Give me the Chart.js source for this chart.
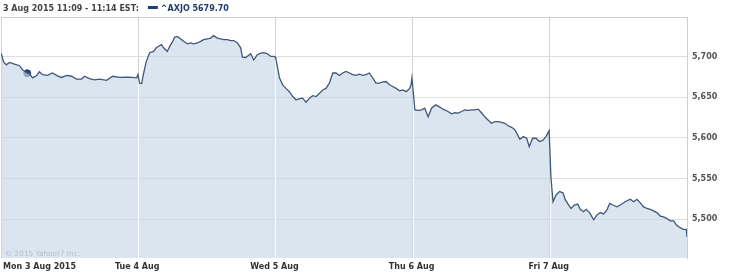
<!DOCTYPE html>
<html>
<head>
<meta charset="utf-8">
<script src="https://cdn.jsdelivr.net/npm/chart.js@4/dist/chart.umd.min.js"></script>
<style>
   html, body { margin: 0; padding: 0; background: #fff; }
   .chart__body { width: 740px; height: 277px; }
</style>
</head>
<body>
<div class="chart__body"><canvas id="myChart" width="740" height="277"></canvas></div>
<script>
// trading hours since Mon open (6 trading hours per day)
const sessionHours = [
   0.01,0.11,0.23,0.37,0.59,0.81,0.94,1.15,1.25,1.38,1.55,1.68,1.82,2.04,2.25,2.47,2.65,2.87,3.09,3.30,3.52,3.65,3.87,4.09,4.31,4.62,4.88,5.19,5.49,5.75,5.93,5.99,
   6.06,6.15,6.24,6.35,6.50,6.67,6.79,6.89,7.02,7.11,7.27,7.42,7.51,7.59,7.71,7.86,7.99,8.15,8.29,8.42,8.59,8.73,8.86,9.02,9.17,9.30,9.46,9.61,9.74,9.90,10.04,10.18,10.34,10.48,10.56,10.70,10.92,11.05,11.21,11.36,11.49,11.65,11.80,11.93,11.99,
   12.02,12.10,12.18,12.32,12.46,12.61,12.76,12.90,13.05,13.19,13.34,13.49,13.63,13.78,13.93,14.07,14.21,14.36,14.51,14.65,14.80,14.94,15.09,15.24,15.38,15.53,15.68,15.82,15.96,16.11,16.26,16.40,16.55,16.70,16.84,16.99,17.13,17.28,17.43,17.57,17.72,17.87,17.93,17.97,
   18.02,18.10,18.24,18.39,18.53,18.68,18.83,19.01,19.19,19.33,19.55,19.70,19.85,19.99,20.14,20.28,20.43,20.58,20.72,20.87,21.01,21.16,21.30,21.45,21.60,21.74,21.89,22.03,22.18,22.33,22.47,22.57,22.69,22.84,22.99,23.10,23.25,23.40,23.54,23.69,23.83,23.97,
   24.05,24.14,24.28,24.43,24.58,24.68,24.83,24.93,25.07,25.22,25.33,25.48,25.59,25.74,25.92,26.06,26.21,26.35,26.50,26.62,26.76,26.94,27.08,27.23,27.37,27.52,27.67,27.81,27.96,28.10,28.25,28.39,28.54,28.68,28.83,28.98,29.12,29.27,29.42,29.54,29.68,29.83,29.97,30.00
];
const axjoValues = [
   5704,5694,5690,5693,5691,5689,5684,5679.7,5679,5674,5676.5,5681.5,5678,5677,5680,5676.5,5674.5,5677,5676,5672.5,5672.5,5676,5673,5671.5,5672.5,5671,5676,5674.5,5675,5674.5,5674,5678,
   5667.5,5667,5680,5694,5705,5706.5,5711,5713,5715,5711,5706.5,5715,5719,5724,5725,5722,5719,5716,5717,5716,5717,5719,5721,5722,5723,5726,5723,5722,5721,5721,5720,5720,5717,5711,5699.6,5699,5703.7,5696,5702.5,5704.5,5705,5703.7,5700.4,5700.4,5699.6,
   5697.5,5686,5673.7,5665.4,5661,5657,5651,5647,5648,5649,5644,5649,5652,5651,5655,5659,5661,5667.5,5680,5680,5677,5680,5682,5680,5678,5677,5678.6,5677,5678,5680,5673.7,5667.5,5667.5,5669,5669.5,5665.4,5663.4,5661,5658,5659,5657,5661,5665.4,5674,
   5659,5634.6,5634,5634.6,5636.6,5626,5636.6,5640.7,5638,5635.4,5632.5,5629.6,5631,5630.5,5632.5,5634.6,5634,5634.6,5634.6,5635.4,5631,5626,5622,5618,5620,5620,5619,5618,5615,5613,5610,5605,5598.4,5601.6,5599.6,5589.3,5599.6,5599.6,5595.5,5597,5601.6,5609,
   5551.5,5521.4,5530,5534,5532,5523.5,5517.3,5513,5517.3,5518.5,5512,5509,5512,5508,5499,5505,5508,5506.4,5511.4,5519.4,5517.3,5515,5517.3,5520,5522.6,5524.3,5521.4,5524.3,5520,5515,5513,5512,5510,5508,5503.7,5502.7,5500.6,5497.8,5497.8,5492.6,5489.7,5487.3,5487.3,5478
];
const dayStarts = [0, 6, 12, 18, 24];
const dayLabels = ['Mon 3 Aug 2015', 'Tue 4 Aug', 'Wed 5 Aug', 'Thu 6 Aug', 'Fri 7 Aug'];
const yTicks = [5500, 5550, 5600, 5650, 5700];
const markerHour = 1.15;
const markerValue = 5679.70;
const headerText = '3 Aug 2015 11:09 - 11:14 EST:';
const seriesName = '^AXJO';
const creditText = '\u00a9 2015 Yahoo!7 Inc.';

const FONT = '"DejaVu Sans", Verdana, sans-serif';

const points = sessionHours.map((h, i) => ({ x: h, y: axjoValues[i] }));

// white day separators inside the filled area + header/labels
const yahooFrame = {
   id: 'yahooFrame',
   beforeDatasetsDraw(chart) {
      const { ctx, chartArea } = chart;
      ctx.save();
      ctx.strokeStyle = '#cfcfcf';
      ctx.lineWidth = 1;
      ctx.beginPath();
      ctx.moveTo(chartArea.left, chartArea.top + 0.5);
      ctx.lineTo(chartArea.right, chartArea.top + 0.5);
      ctx.stroke();
      ctx.restore();
   },
   beforeDatasetDraw(chart, args) {
      if (args.index !== 0) return;
      const pts = args.meta.data;
      const { ctx, chartArea, scales } = chart;
      ctx.save();
      ctx.beginPath();
      ctx.moveTo(pts[0].x, chartArea.bottom);
      pts.forEach(p => ctx.lineTo(p.x, p.y));
      ctx.lineTo(pts[pts.length - 1].x, chartArea.bottom);
      ctx.closePath();
      ctx.clip();
      ctx.strokeStyle = '#fff';
      ctx.lineWidth = 1;
      dayStarts.slice(1).forEach(d => {
         const x = Math.round(scales.x.getPixelForValue(d)) + 0.5;
         ctx.beginPath();
         ctx.moveTo(x, chartArea.top);
         ctx.lineTo(x, chartArea.bottom);
         ctx.stroke();
      });
      ctx.restore();
   },
   afterDraw(chart) {
      const { ctx, chartArea, scales } = chart;
      ctx.save();
      // header
      ctx.font = `bold 8px ${FONT}`;
      ctx.textBaseline = 'alphabetic';
      ctx.textAlign = 'left';
      ctx.fillStyle = '#444';
      ctx.fillText(headerText, 3, 11);
      const lx = 3 + ctx.measureText(headerText).width + 9;
      ctx.fillStyle = '#1f3f73';
      ctx.fillRect(lx, 6, 10, 3);
      ctx.fillStyle = '#1d3d6e';
      ctx.fillText(`${seriesName} ${markerValue.toFixed(2)}`, lx + 13, 11);
      // day labels
      ctx.fillStyle = '#333';
      dayStarts.forEach((d, i) => {
         const x = scales.x.getPixelForValue(d);
         if (i === 0) {
            ctx.textAlign = 'left';
            ctx.fillText(dayLabels[i], 3, 269);
         } else {
            ctx.textAlign = 'center';
            ctx.fillText(dayLabels[i], x - 1, 269);
         }
      });
      // credit
      ctx.font = `7.3px ${FONT}`;
      ctx.textAlign = 'left';
      ctx.fillStyle = '#b3bfcb';
      ctx.fillText(creditText, 5, chartArea.bottom - 2);
      ctx.restore();
   }
};

const config = {
   type: 'line',
   data: {
      datasets: [{
         data: points,
         borderColor: '#3f5879',
         borderWidth: 1.3,
         backgroundColor: 'rgba(200, 216, 232, 0.66)',
         fill: 'start',
         pointRadius: 0,
         tension: 0,
      }, {
         data: [{ x: markerHour, y: markerValue }],
         showLine: false,
         pointRadius: 3.5,
         pointBackgroundColor: '#24467a',
         pointBorderColor: '#24467a',
      }]
   },
   options: {
      responsive: false,
      animation: false,
      devicePixelRatio: 1,
      layout: {
         autoPadding: false,
         padding: { top: 17, left: 1, right: 0, bottom: 0 }
      },
      scales: {
         x: {
            type: 'linear',
            min: 0,
            max: 30,
            afterBuildTicks: (scale) => {
               scale.ticks = dayStarts.concat([30]).map(v => ({ value: v }));
            },
            afterFit: (scale) => { scale.height = 19; },
            ticks: { display: false },
            border: { display: false },
            grid: {
               color: '#d2d2d2',
               drawTicks: false,
            }
         },
         y: {
            position: 'right',
            min: 5452,
            max: 5749,
            afterBuildTicks: (scale) => {
               scale.ticks = yTicks.map(v => ({ value: v }));
            },
            afterFit: (scale) => { scale.width = 53; },
            ticks: {
               padding: 5,
               color: '#555',
               font: { family: FONT, size: 8, weight: 'bold' },
               callback: (v) => v.toLocaleString('en-US'),
            },
            border: { color: '#cfcfcf' },
            grid: {
               color: '#dddddd',
               drawTicks: false,
            }
         }
      },
      plugins: {
         legend: { display: false },
         tooltip: { enabled: false },
      }
   },
   plugins: [yahooFrame]
};

const myChart = new Chart(document.getElementById('myChart'), config);
</script>
</body>
</html>
